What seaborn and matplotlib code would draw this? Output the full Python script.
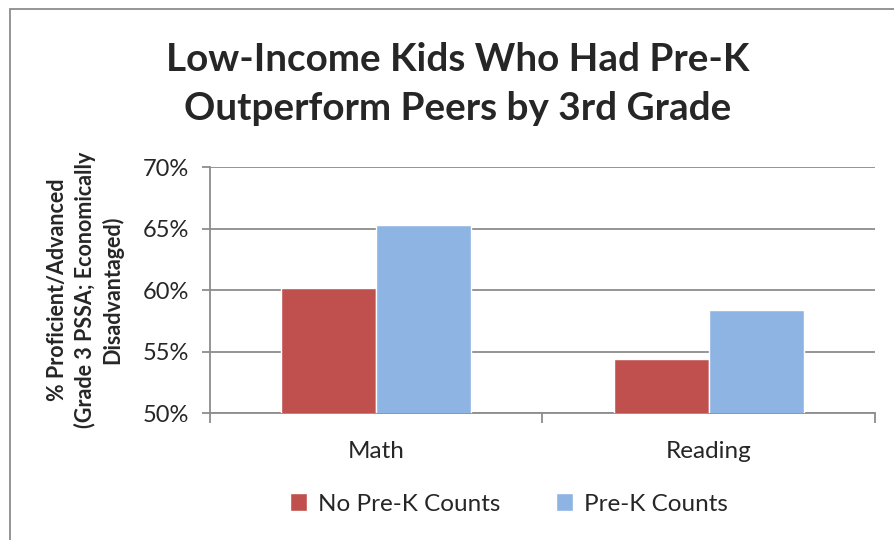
import matplotlib
matplotlib.use("Agg")
import matplotlib.pyplot as plt
import seaborn as sns
import pandas as pd
from matplotlib.patches import Rectangle
from matplotlib.ticker import FixedLocator, PercentFormatter

subjects = ["Math", "Reading"]
series_names = ["No Pre-K Counts", "Pre-K Counts"]
no_prek = [60.15, 54.35]
prek = [65.27, 58.4]
colors = ["#C0504D", "#8EB4E3"]
y_ticks = [50, 55, 60, 65, 70]

df = pd.DataFrame({
    "Subject": subjects * 2,
    "Series": [series_names[0]] * 2 + [series_names[1]] * 2,
    "Value": no_prek + prek,
})

sns.set_theme(style="white")
plt.rcParams['font.family'] = ['Lato', 'DejaVu Sans']

fig = plt.figure(figsize=(8.95, 5.4), dpi=100)
ax = fig.add_axes([210/895, 1-413/540, 665/895, 246/540])

sns.barplot(data=df, x="Subject", y="Value", hue="Series", palette=colors,
            width=0.57, ax=ax, legend=True, saturation=1, zorder=3)

ax.set_ylim(50, 70)
ax.set_xlim(-0.5, 1.5)
ax.yaxis.set_major_locator(FixedLocator(y_ticks))
ax.yaxis.set_major_formatter(PercentFormatter(decimals=0))
grid_c = "#8C8C8C"
ax.grid(axis="y", color=grid_c, linewidth=1.3, zorder=0)
ax.set_axisbelow(True)
for s in ["top", "right"]:
    ax.spines[s].set_visible(False)
for s in ["left", "bottom"]:
    ax.spines[s].set_color(grid_c)
    ax.spines[s].set_linewidth(1.3)

ax.tick_params(axis="y", which="major", direction="out", length=6, color=grid_c,
               width=1.3, labelsize=17, pad=9, left=True)
ax.set_xticks([0, 1])
ax.set_xticklabels(subjects)
ax.tick_params(axis="x", which="major", length=0, labelsize=17.5, pad=20)
ax.set_xticks([-0.5, 0.5, 1.5], minor=True)
ax.tick_params(axis="x", which="minor", direction="out", length=7, color=grid_c,
               width=1.3, bottom=True)

ax.set_xlabel("")
ax.set_ylabel("% Proficient/Advanced\n(Grade 3 PSSA; Economically\nDisadvantaged)",
              fontsize=15.5, fontweight="bold", labelpad=14, linespacing=1.3)

leg = ax.legend(loc="center", bbox_to_anchor=(509/895, 1-504/540),
                bbox_transform=fig.transFigure, ncol=2, frameon=False,
                fontsize=17.5, handlelength=0.7, handleheight=0.7,
                handletextpad=0.45, columnspacing=2.3)

fig.text(458/895, 1-84/540, "Low-Income Kids Who Had Pre-K\nOutperform Peers by 3rd Grade",
         ha="center", va="center", fontsize=27.8, fontweight="bold", linespacing=1.45)

fig.patches.append(Rectangle((10/895, -0.1), 1.2, 1 - 9/540 + 0.1,
                             transform=fig.transFigure, fill=False,
                             edgecolor="#8C8C8C", linewidth=1.3))

fig.savefig("out.png", dpi=100)
